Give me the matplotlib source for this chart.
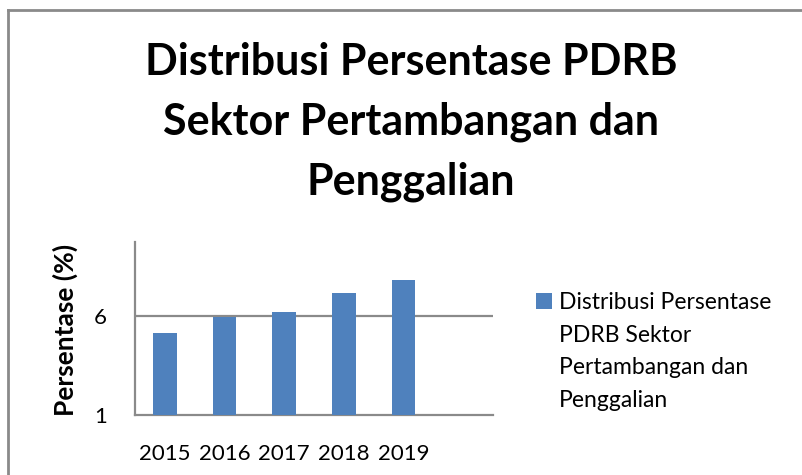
import matplotlib
matplotlib.use("Agg")
import matplotlib.pyplot as plt
from matplotlib.lines import Line2D
from matplotlib.patches import Rectangle

plt.rcParams['font.family'] = ['Lato', 'DejaVu Sans']

years = ["2015", "2016", "2017", "2018", "2019"]
values = [5.14, 5.93, 6.22, 7.16, 7.82]
series_label_lines = ["Distribusi Persentase", "PDRB Sektor", "Pertambangan dan", "Penggalian"]
title = "Distribusi Persentase PDRB\nSektor Pertambangan dan\nPenggalian"
y_ticks = [1, 6]

fig = plt.figure(figsize=(8.03, 4.75), dpi=100)
ax = fig.add_axes([135/803, 1-415/475, (493-135)/803, (415-242)/475])

bars = ax.bar(range(len(years)), [v - 1 for v in values], bottom=1, width=0.4,
              color="#4F81BD", label=series_label_lines[0], zorder=3)
ax.set_xlim(-0.5, 5.5)
ax.set_ylim(1, 9.74)
ax.set_yticks(y_ticks)
ax.set_xticks(range(len(years)))
ax.set_xticklabels(years)
ax.tick_params(length=0, labelsize=16, colors="black")
ax.tick_params(axis='x', pad=21)
ax.tick_params(axis='y', pad=20)
ax.axhline(6, color="#8a8a8a", lw=1.6, zorder=1)
for s in ["top", "right"]:
    ax.spines[s].set_visible(False)
for s in ["left", "bottom"]:
    ax.spines[s].set_color("#8a8a8a")
    ax.spines[s].set_linewidth(1.6)

ax.set_ylabel("Persentase (%)", fontsize=19, fontweight="bold")
ax.yaxis.set_label_coords(-57/358, 0.49)

fig.text(411/803, 1-122/475, title, ha="center", va="center", fontsize=31,
         fontweight="bold", linespacing=1.6)

blank = [Rectangle((0, 0), 1, 1, alpha=0) for _ in series_label_lines[1:]]
leg = fig.legend([bars] + blank, series_label_lines, loc="upper left",
                 bbox_to_anchor=(515/803, 1-271/475),
                 frameon=False, fontsize=16.5, handlelength=0.7, handleheight=0.7,
                 handletextpad=0.3, labelspacing=0.52)

# chart border (top and left)
fig.add_artist(Line2D([8/803, 8/803], [0, 1-10/475], color="#8a8a8a", lw=2))
fig.add_artist(Line2D([8/803, 1], [1-10/475, 1-10/475], color="#8a8a8a", lw=2))

fig.savefig("out.png", dpi=100)
